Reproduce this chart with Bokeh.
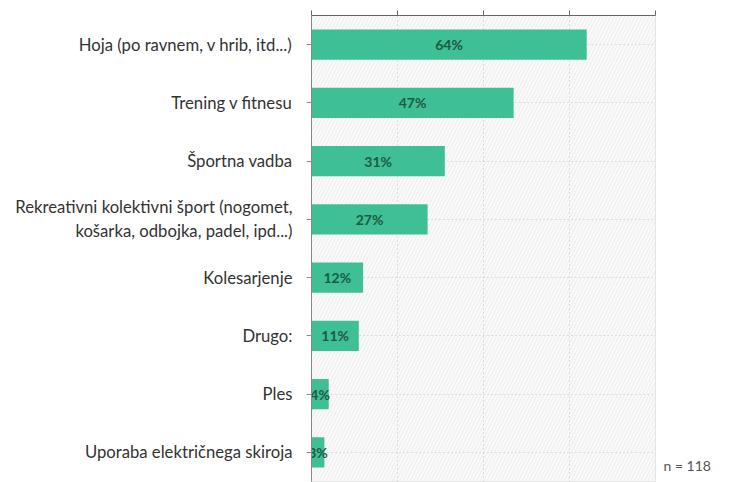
from bokeh.plotting import figure
from bokeh.models import ColumnDataSource, FixedTicker, BoxAnnotation, Range1d, LinearAxis
from bokeh.core.properties import value
from bokeh.embed import file_html
from bokeh.resources import INLINE

categories = [
    "Hoja (po ravnem, v hrib, itd...)",
    "Trening v fitnesu",
    "Športna vadba",
    "Rekreativni kolektivni šport (nogomet,\nkošarka, odbojka, padel, ipd...)",
    "Kolesarjenje",
    "Drugo:",
    "Ples",
    "Uporaba električnega skiroja",
]
values = [64, 47, 31, 27, 12, 11, 4, 3]
labels = [f"{v}%" for v in values]
x_ticks = [0, 20, 40, 60, 80]
n_text = "n = 118"

ncat = len(categories)
ypos = [ncat - i - 0.5 for i in range(ncat)]  # category slots, top to bottom

src = ColumnDataSource(dict(y=ypos, val=values, half=[v / 2 for v in values], lab=labels))

p = figure(width=743, height=482, y_range=Range1d(0, ncat), x_range=Range1d(0, 80),
           x_axis_location="above", output_backend="svg", toolbar_location=None,
           min_border_left=311, min_border_right=88, min_border_top=15, min_border_bottom=1)
p.outline_line_color = "#dddddd"
p.background_fill_color = "#fafafa"
p.border_fill_color = "white"

p.add_layout(BoxAnnotation(fill_color="#fafafa", fill_alpha=1, hatch_pattern="/", hatch_color="#ebebeb",
                           hatch_scale=7, hatch_weight=1, line_alpha=0, level="image"))

p.hbar(y="y", right="val", left=0, height=0.52, source=src, color="#3fbf95", line_color=None)
p.text(x="half", y="y", text="lab", source=src, text_align="center", text_baseline="middle",
       text_font=value("Lato"), text_font_size="14px", text_font_style="bold", text_color="#1e5a42")

p.xaxis.ticker = FixedTicker(ticks=x_ticks)
p.xaxis.major_label_overrides = {t: "" for t in x_ticks}
p.xaxis.major_label_standoff = 0
p.xaxis.axis_line_color = "#666666"
p.xaxis.major_tick_line_color = "#666666"
p.xaxis.major_tick_out = 5
p.xaxis.major_tick_in = 0
p.xaxis.minor_tick_line_color = None

p.yaxis.ticker = FixedTicker(ticks=ypos)
p.yaxis.major_label_overrides = {y: c for y, c in zip(ypos, categories)}
p.yaxis.axis_line_color = "#888888"
p.yaxis.major_tick_line_color = "#888888"
p.yaxis.major_tick_out = 5
p.yaxis.major_tick_in = 0
p.yaxis.minor_tick_line_color = None
p.yaxis.major_label_text_font = "Lato"
p.yaxis.major_label_text_font_size = "16.7px"
p.yaxis.major_label_text_color = "#333333"
p.yaxis.major_label_standoff = 14

p.xgrid.grid_line_color = "#c4c4c4"
p.xgrid.grid_line_dash = "1 3"
p.ygrid.grid_line_color = "#c4c4c4"
p.ygrid.grid_line_dash = "1 3"

# sample-size note in the right margin, via an unlined axis
note_axis = LinearAxis(ticker=FixedTicker(ticks=[0.27]), major_label_overrides={0.27: n_text})
note_axis.axis_line_color = None
note_axis.major_tick_line_color = None
note_axis.minor_tick_line_color = None
note_axis.major_label_standoff = 2
note_axis.major_label_text_font = "Lato"
note_axis.major_label_text_font_size = "14px"
note_axis.major_label_text_color = "#555555"
p.add_layout(note_axis, "right")

open("out.html", "w").write(file_html(p, INLINE))
